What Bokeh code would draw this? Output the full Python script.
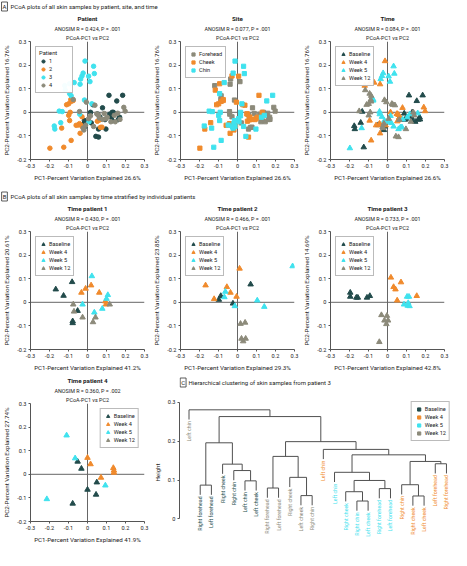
import math
from bokeh.plotting import figure
from bokeh.layouts import column, row
from bokeh.models import Range1d, Span, Label, Title, ColumnDataSource, FixedTicker, CustomJSTickFormatter
from bokeh.core.properties import value
from bokeh.embed import file_html
from bokeh.resources import INLINE

FONT = "Roboto"
DARK = "#224b4b"
ORANGE = "#f08a2c"
CYAN = "#3fe2ee"
GRAY = "#8c8a7a"
AXIS = "#555555"
TXT = "#222222"
NAN = float("nan")

# ---------------- categories ----------------
TIME_CODES = ["B", "4", "5", "12"]
TIME_LABELS = ["Baseline", "Week 4", "Week 5", "Week 12"]
TIME_COLORS = [DARK, ORANGE, CYAN, GRAY]
PATIENT_CODES = ["1", "2", "3", "4"]
PATIENT_COLORS = [DARK, ORANGE, CYAN, GRAY]
SITE_CODES = ["F", "K", "C"]
SITE_LABELS = ["Forehead", "Cheek", "Chin"]
SITE_COLORS = [GRAY, ORANGE, CYAN]

# ---------------- panel A data (all samples) ----------------
p1_x = [0.113, 0.185, 0.154, 0.079, 0.028, 0.016, 0.052, 0.130, 0.136, 0.126, 0.169, 0.162,
        -0.016, -0.019, -0.013, 0.058, 0.097, 0.044, 0.058, 0.092, 0.117, 0.130, 0.020, 0.065]
p1_y = [0.072, 0.072, 0.048, 0.019, 0.032, 0.000, -0.007, 0.000, 0.000, -0.021, -0.021, -0.031,
        -0.035, -0.048, -0.060, -0.071, -0.071, -0.102, -0.105, -0.031, -0.008, -0.035, -0.045, -0.020]
p1_site = ["K", "C", "C", "F", "K", "C", "K", "K", "F", "C", "F", "F",
           "C", "C", "C", "F", "C", "C", "K", "K", "F", "F", "F", "K"]
p1_time = ["B", "B", "B", "4", "12", "4", "4", "B", "12", "B", "B", "B",
           "5", "12", "B", "5", "12", "12", "12", "B", "5", "B", "5", "4"]

p2_x = [-0.088, -0.086, -0.099, -0.110, -0.075, -0.091, -0.099, -0.094, -0.029, -0.042, -0.049, -0.036,
        -0.026, -0.060, -0.136, -0.039, -0.086, -0.125, -0.198, 0.052, 0.062, 0.068, 0.076, 0.068]
p2_y = [0.054, 0.046, 0.036, 0.032, 0.050, 0.000, -0.013, -0.035, -0.019, -0.048, -0.054, -0.054,
        -0.062, -0.055, -0.067, -0.089, -0.119, -0.148, -0.152, -0.038, -0.032, -0.031, -0.063, -0.064]
p2_site = ["F", "K", "K", "K", "K", "C", "C", "C", "F", "K", "C", "F",
           "C", "K", "C", "K", "C", "C", "K", "K", "K", "K", "F", "F"]
p2_time = ["12", "12", "12", "12", "5", "12", "12", "4", "5", "4", "B", "4",
           "12", "4", "5", "4", "4", "B", "5", "4", "12", "B", "5", "5"]

p3_x = [-0.013, -0.023, -0.029, -0.036, 0.036, 0.006, 0.013, -0.039, -0.070, -0.094, -0.120, -0.117,
        -0.094, -0.086, -0.016, 0.023, -0.149, -0.133, -0.041, 0.008, -0.141, -0.175, -0.172, 0.032]
p3_y = [0.217, 0.166, 0.154, 0.141, 0.164, 0.153, 0.130, 0.119, 0.126, 0.121, 0.113, 0.094,
        0.079, 0.070, 0.052, 0.036, 0.005, 0.003, -0.008, -0.040, -0.044, -0.058, -0.071, 0.195]
p3_site = ["C", "C", "K", "F", "C", "K", "F", "F", "C", "K", "F", "K",
           "C", "F", "F", "C", "C", "C", "F", "C", "K", "C", "K", "C"]
p3_time = ["4", "5", "5", "5", "5", "5", "5", "4", "4", "4", "4", "12",
           "12", "12", "12", "12", "12", "B", "5", "5", "B", "B", "B", "5"]

p4_x = [-0.006, 0.039, -0.042, -0.075, 0.191, 0.198, 0.159, 0.049, 0.058, 0.016, 0.088, 0.097,
        0.104, 0.123, -0.023, -0.019, 0.006, -0.010, 0.062, 0.141, 0.171, 0.146, 0.080, 0.032]
p4_y = [0.043, 0.030, 0.003, 0.054, 0.021, 0.005, -0.004, -0.007, -0.011, -0.015, -0.005, -0.027,
        -0.021, -0.040, -0.067, -0.075, -0.027, -0.055, -0.024, -0.013, -0.030, -0.040, -0.030, -0.060]
p4_site = ["K", "K", "F", "K", "F", "F", "F", "K", "F", "C", "F", "K",
           "K", "F", "C", "K", "C", "K", "K", "C", "F", "F", "K", "C"]
p4_time = ["12", "12", "5", "5", "4", "4", "5", "4", "4", "5", "B", "B",
           "5", "12", "12", "B", "12", "4", "B", "12", "B", "B", "5", "5"]

# ---------------- panel B data (per patient) ----------------
b1_x = [-0.167, -0.081, -0.126, -0.052, -0.078, -0.078, 0.019, -0.010, -0.032, 0.062, 0.094, 0.097,
        0.023, 0.107, 0.100, 0.078, 0.036, -0.026, -0.075, -0.071, -0.026, 0.029, 0.042, 0.117]
b1_y = [0.055, 0.086, 0.028, -0.036, -0.080, -0.088, 0.072, 0.058, 0.041, 0.041, 0.004, -0.009,
        0.111, 0.031, 0.015, -0.027, -0.043, -0.009, -0.009, -0.039, -0.064, -0.084, -0.064, -0.009]
b1_t = ["B", "B", "B", "B", "B", "B", "4", "4", "4", "4", "4", "4",
        "5", "5", "5", "5", "5", "5", "12", "12", "12", "12", "12", "12"]

b2_x = [-0.088, -0.098, -0.024, 0.069, -0.168, -0.123, -0.056, -0.037, -0.005, 0.011,
        -0.064, -0.069, -0.014, 0.104, 0.141, 0.290, 0.016, 0.040, 0.021, 0.043, 0.030]
b2_y = [0.027, 0.011, -0.005, 0.076, 0.072, 0.014, 0.065, 0.041, 0.024, 0.143,
        0.045, 0.022, -0.016, 0.008, -0.019, 0.153, -0.091, -0.086, -0.154, -0.154, -0.165]
b2_t = ["B", "B", "B", "B", "4", "4", "4", "4", "4", "4",
        "5", "5", "5", "5", "5", "5", "12", "12", "12", "12", "12"]

b3_x = [-0.196, -0.196, -0.164, -0.156, -0.108, -0.093, 0.018, 0.071, 0.032, 0.042, 0.051, 0.154,
        0.103, 0.113, 0.087, 0.106, 0.116, 0.109, -0.032, -0.003, -0.016, 0.003, -0.006, -0.043]
b3_y = [0.041, 0.024, 0.020, 0.020, 0.020, 0.027, 0.105, 0.085, 0.065, 0.055, 0.008, 0.027,
        0.024, 0.024, -0.009, -0.014, -0.016, -0.003, -0.054, -0.057, -0.077, -0.077, -0.092, -0.168]
b3_t = ["B", "B", "B", "B", "B", "B", "4", "4", "4", "4", "4", "4",
        "5", "5", "5", "5", "5", "5", "12", "12", "12", "12", "12", "12"]

b4_x = [-0.052, -0.032, 0.000, 0.049, 0.045, -0.078, 0.000, 0.016, 0.071, 0.136, 0.139, 0.139,
        -0.110, -0.065, 0.094, -0.214]
b4_y = [0.054, 0.024, -0.065, -0.034, -0.086, -0.124, 0.070, 0.043, -0.014, 0.027, 0.016, 0.007,
        0.165, 0.068, -0.047, -0.105]
b4_t = ["B", "B", "B", "B", "B", "B", "4", "4", "4", "4", "4", "4",
        "5", "5", "5", "5"]

# ---------------- titles / stats ----------------
a_titles = ["Patient", "Site", "Time"]
a_r = ["0.424", "0.077", "0.084"]
a_p = [".001", ".001", ".001"]
b_titles = ["Time patient 1", "Time patient 2", "Time patient 3", "Time patient 4"]
b_r = ["0.430", "0.466", "0.733", "0.360"]
b_p = [".001", ".001", ".001", ".002"]
a_xlab = "PC1-Percent Variation Explained 26.6%"
a_ylab = "PC2-Percent Variation Explained 16.76%"
b_xlab = ["PC1-Percent Variation Explained 41.2%", "PC1-Percent Variation Explained 29.3%",
          "PC1-Percent Variation Explained 42.8%", "PC1-Percent Variation Explained 41.9%"]
b_ylab = ["PC2-Percent Variation Explained 20.61%", "PC2-Percent Variation Explained 23.85%",
          "PC2-Percent Variation Explained 14.69%", "PC2-Percent Variation Explained 27.74%"]
x_ticks = [-0.3, -0.2, -0.1, 0, 0.1, 0.2, 0.3]
y_ticks = [-0.2, -0.1, 0, 0.1, 0.2, 0.3]

# ---------------- dendrogram data (patient 3) ----------------
leaf_labels = ["Left chin", "Right forehead", "Left forehead", "Right cheek", "Right chin", "Left chin",
               "Left cheek", "Right forehead", "Left forehead", "Right cheek", "Left cheek", "Right chin",
               "Left chin", "Left chin", "Right cheek", "Right chin", "Left cheek", "Right forehead",
               "Left forehead", "Right chin", "Right cheek", "Left cheek", "Left forehead", "Right forehead"]
leaf_times = ["12", "B", "B", "B", "B", "B", "B", "12", "12", "12", "12", "12",
              "4", "5", "5", "5", "5", "5", "5", "4", "4", "4", "4", "4"]
# merges (R convention: negative = leaf number, positive = earlier merge), heights
merge_a = [-16, -21, -11, -15, -18, -8, -2, -20, -6, 4, -10, -14, -5, -4, -23, 8, 6, 12, -13, 7, 17, 20, -1]
merge_b = [-17, -22, -12, 1, -19, -9, -3, 2, -7, 5, 3, 10, 9, 13, -24, 15, 11, 16, 18, 14, 19, 21, 22]
merge_h = [0.046, 0.059, 0.060, 0.070, 0.078, 0.0795, 0.087, 0.088, 0.098, 0.099, 0.107, 0.120,
           0.1245, 0.141, 0.142, 0.148, 0.161, 0.165, 0.179, 0.196, 0.199, 0.2636, 0.281]
d_ticks = [0, 0.1, 0.2, 0.3]

PW, PH = 150, 172
FMT = CustomJSTickFormatter(code="return Math.abs(tick) < 1e-9 ? '0' : tick.toFixed(1);")
SMALL = "5.4px"


def style_axis(ax, label):
    ax.axis_label = label
    ax.axis_label_text_font = FONT
    ax.axis_label_text_font_size = "6.2px"
    ax.axis_label_text_font_style = "normal"
    ax.axis_label_text_color = TXT
    ax.axis_label_standoff = 3
    ax.major_label_text_font = FONT
    ax.major_label_text_font_size = "5.6px"
    ax.major_label_text_color = TXT
    ax.major_label_standoff = 2
    ax.axis_line_color = AXIS
    ax.major_tick_line_color = AXIS
    ax.minor_tick_line_color = None
    ax.major_tick_in = 0
    ax.major_tick_out = 2
    ax.formatter = FMT


def add_titles(p, title, r, pv):
    lines = [("PCoA-PC1 vs PC2", SMALL, "normal"),
             ("ANOSIM R = %s, P = %s" % (r, pv), SMALL, "normal"),
             (title, "6.2px", "bold")]
    for txt, size, style in lines:
        p.add_layout(Title(text=txt, align="center", text_font=FONT, text_font_size=size,
                           text_font_style=style, text_color=TXT, standoff=1), "above")


def style_legend(lg, loc, margin):
    lg.location = loc
    lg.margin = margin
    lg.padding = 3
    lg.spacing = 0
    lg.glyph_width = 8
    lg.glyph_height = 8
    lg.label_height = 8
    lg.label_standoff = 2
    lg.label_text_font = FONT
    lg.label_text_font_size = "5.6px"
    lg.label_text_color = TXT
    lg.border_line_color = "#777777"
    lg.border_line_width = 1


def scatter_panel(xs, ys, groups, codes, labels, colors, marker, size, title, r, pv, xlab, ylab,
                  legend_title=None, legend_loc="top_left"):
    p = figure(width=PW, height=PH, x_range=Range1d(-0.3, 0.3), y_range=Range1d(-0.2, 0.3),
               output_backend="svg", toolbar_location=None, title=None,
               min_border_left=26, min_border_right=6, min_border_top=26, min_border_bottom=24)
    p.outline_line_color = None
    p.grid.visible = False
    p.xaxis.ticker = FixedTicker(ticks=x_ticks)
    p.yaxis.ticker = FixedTicker(ticks=y_ticks)
    style_axis(p.xaxis[0], xlab)
    style_axis(p.yaxis[0], ylab)
    p.add_layout(Span(location=0, dimension="height", line_color="#666666", line_width=1, level="underlay"))
    p.add_layout(Span(location=0, dimension="width", line_color="#666666", line_width=1, level="underlay"))
    for code, lab, col in zip(codes, labels, colors):
        sx = [x for x, g in zip(xs, groups) if g == code]
        sy = [y for y, g in zip(ys, groups) if g == code]
        if not sx:  # category without samples: legend-only placeholder
            sx, sy = [NAN], [NAN]
        p.scatter(x="x", y="y", source=ColumnDataSource(dict(x=sx, y=sy)), marker=marker, size=size,
                  fill_color=col, line_color=col, legend_label=lab)
    lg = p.legend[0]
    style_legend(lg, legend_loc, 5)
    if legend_title:
        lg.title = legend_title
        lg.title_text_font = FONT
        lg.title_text_font_size = "5.8px"
        lg.title_text_font_style = "normal"
        lg.title_text_color = TXT
        lg.title_standoff = 1
    add_titles(p, title, r, pv)
    return p


def header(width, height, letter, text, ty):
    p = figure(width=width, height=height, x_range=Range1d(0, width), y_range=Range1d(0, height),
               x_axis_location=None, y_axis_location=None, min_border=0, output_backend="svg",
               toolbar_location=None, title=None)
    p.outline_line_color = None
    p.grid.visible = False
    p.add_layout(Label(x=4, y=ty, text=letter, text_align="center", text_baseline="middle",
                       text_font=FONT, text_font_size="6px", text_color=TXT,
                       border_line_color="#333333", border_line_width=0.8, padding=1))
    p.add_layout(Label(x=10, y=ty, text=text, text_align="left", text_baseline="middle",
                       text_font=FONT, text_font_size="6px", text_color=TXT))
    return p


A_x = p1_x + p2_x + p3_x + p4_x
A_y = p1_y + p2_y + p3_y + p4_y
A_pat = ["1"] * len(p1_x) + ["2"] * len(p2_x) + ["3"] * len(p3_x) + ["4"] * len(p4_x)
A_site = p1_site + p2_site + p3_site + p4_site
A_time = p1_time + p2_time + p3_time + p4_time

a1 = scatter_panel(A_x, A_y, A_pat, PATIENT_CODES, PATIENT_CODES, PATIENT_COLORS, "circle", 4.5,
                   a_titles[0], a_r[0], a_p[0], a_xlab, a_ylab, legend_title="Patient")
a2 = scatter_panel(A_x, A_y, A_site, SITE_CODES, SITE_LABELS, SITE_COLORS, "square", 4.2,
                   a_titles[1], a_r[1], a_p[1], a_xlab, a_ylab)
a3 = scatter_panel(A_x, A_y, A_time, TIME_CODES, TIME_LABELS, TIME_COLORS, "triangle", 5.5,
                   a_titles[2], a_r[2], a_p[2], a_xlab, a_ylab)

bx = [b1_x, b2_x, b3_x, b4_x]
by = [b1_y, b2_y, b3_y, b4_y]
bt = [b1_t, b2_t, b3_t, b4_t]
bp = []
for i in range(4):
    bp.append(scatter_panel(bx[i], by[i], bt[i], TIME_CODES, TIME_LABELS, TIME_COLORS, "triangle", 5.5,
                            b_titles[i], b_r[i], b_p[i], b_xlab[i], b_ylab[i],
                            legend_loc="top_right" if i == 3 else "top_left"))

# ---------------- dendrogram ----------------
DW = 301
HC = 16
HANG = 0.025
n = len(leaf_labels)
d = figure(width=DW, height=PH - HC, x_range=Range1d(0.15, n + 0.45), y_range=Range1d(-0.066, 0.305),
           x_axis_location=None, output_backend="svg", toolbar_location=None, title=None,
           min_border_left=27, min_border_right=0, min_border_top=26 - HC, min_border_bottom=2)
d.outline_line_color = None
d.grid.visible = False
d.yaxis.ticker = FixedTicker(ticks=d_ticks)
style_axis(d.yaxis[0], "Height")
d.yaxis[0].bounds = (0, 0.3)

leaf_pos = list(range(1, n + 1))
cl_x, cl_h = [], []
leaf_end = [None] * n
paths_x, paths_y = [], []
for a, b, h in zip(merge_a, merge_b, merge_h):
    ends = []
    for c in (a, b):
        if c < 0:
            xx = leaf_pos[-c - 1]
            yy = h - HANG
            leaf_end[-c - 1] = yy
        else:
            xx = cl_x[c - 1]
            yy = cl_h[c - 1]
        ends.append((xx, yy))
    (xa, ya), (xb, yb) = ends
    paths_x.append([xa, xa, xb, xb])
    paths_y.append([ya, h, h, yb])
    cl_x.append((xa + xb) / 2.0)
    cl_h.append(h)

d.multi_line(xs=paths_x, ys=paths_y, line_color="#505050", line_width=1)
tcol = {c: col for c, col in zip(TIME_CODES, TIME_COLORS)}
lab_src = ColumnDataSource(dict(x=leaf_pos, y=[e - 0.004 for e in leaf_end], t=leaf_labels,
                                c=[tcol[t] for t in leaf_times]))
d.text(x="x", y="y", text="t", text_color="c", source=lab_src, angle=math.pi / 2,
       text_align="right", text_baseline="middle", text_font=value(FONT),
       text_font_size=value("5.3px"))
for code, lab, col in zip(TIME_CODES, TIME_LABELS, TIME_COLORS):
    d.scatter(x="x", y="y", source=ColumnDataSource(dict(x=[NAN], y=[NAN])), marker="square",
              fill_color=col, line_color=col, legend_label=lab)
style_legend(d.legend[0], "top_right", 1)

hA = header(450, 12, "A", "PCoA plots of all skin samples by patient, site, and time", 6)
hB = header(450, 18, "B", "PCoA plots of all skin samples by time stratified by individual patients", 6)
hC = header(DW, HC, "C", "Hierarchical clustering of skin samples from patient 3", 8)

layout = column(hA, row(a1, a2, a3), hB, row(bp[0], bp[1], bp[2]), row(bp[3], column(hC, d)))
open("out.html", "w").write(file_html(layout, INLINE))
